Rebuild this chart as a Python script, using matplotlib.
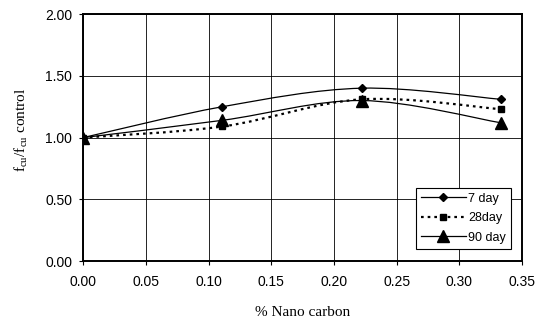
import matplotlib
matplotlib.use("Agg")
import matplotlib.pyplot as plt
from matplotlib.path import Path
from matplotlib.patches import PathPatch

# data
nano = [0.0, 0.111, 0.222, 0.333]
day7 = [1.00, 1.25, 1.40, 1.31]
day28 = [1.00, 1.09, 1.31, 1.23]
day90 = [1.00, 1.14, 1.30, 1.12]

xticks = [0.00, 0.05, 0.10, 0.15, 0.20, 0.25, 0.30, 0.35]
yticks = [0.00, 0.50, 1.00, 1.50, 2.00]

plt.rcParams['font.family'] = ['Liberation Sans', 'DejaVu Sans']
plt.rcParams['mathtext.fontset'] = 'custom'
plt.rcParams['mathtext.rm'] = 'Liberation Serif'


def smooth_path(xs, ys):
    # Excel-like smoothed line: cubic bezier through the points
    pts = list(zip(xs, ys))
    n = len(pts)
    verts = [pts[0]]
    codes = [Path.MOVETO]
    for i in range(n - 1):
        p0 = pts[i - 1] if i > 0 else pts[i]
        p1 = pts[i]
        p2 = pts[i + 1]
        p3 = pts[i + 2] if i + 2 < n else pts[i + 1]
        c1 = (p1[0] + (p2[0] - p0[0]) / 6, p1[1] + (p2[1] - p0[1]) / 6)
        c2 = (p2[0] - (p3[0] - p1[0]) / 6, p2[1] - (p3[1] - p1[1]) / 6)
        verts += [c1, c2, p2]
        codes += [Path.CURVE4] * 3
    return Path(verts, codes)


fig = plt.figure(figsize=(5.4, 3.2), dpi=100)
ax = fig.add_axes([0.154, 0.184, 0.813, 0.772])

series = [
    (day7, 'D', 4, '-', 0.9, '7 day'),
    (day28, 's', 4.5, (0, (1.2, 1.8)), 1.6, '28day'),
    (day90, '^', 8, '-', 0.9, '90 day'),
]

for ys, mk, ms, ls, lw, lab in series:
    ax.add_patch(PathPatch(smooth_path(nano, ys), facecolor='none',
                           edgecolor='black', linestyle=ls, linewidth=lw))
    ax.plot(nano, ys, linestyle='none', marker=mk, markersize=ms, color='black')
    ax.plot([], [], color='black', linestyle=ls, linewidth=lw, marker=mk,
            markersize=ms, label=lab)

ax.set_xlim(0, 0.35)
ax.set_ylim(0, 2.0)
ax.set_xticks(xticks)
ax.set_yticks(yticks)
ax.set_xticklabels(['%.2f' % v for v in xticks])
ax.set_yticklabels(['%.2f' % v for v in yticks])
ax.tick_params(labelsize=10, length=3, width=0.8, direction='out')
ax.tick_params(axis='x', pad=7)
ax.tick_params(axis='y', pad=5)
ax.grid(True, color='black', linewidth=0.6)
ax.set_axisbelow(True)
for sp in ax.spines.values():
    sp.set_linewidth(1.4)

ax.set_xlabel('% Nano carbon', family=['Liberation Serif'], fontsize=11, labelpad=12)
ax.set_ylabel(r'f$_\mathregular{cu}$/f$_\mathregular{cu}$ control',
              family=['Liberation Serif'], fontsize=11)
ax.yaxis.set_label_coords(-0.122, 0.53)

leg = ax.legend(loc='lower right', bbox_to_anchor=(0.975, 0.05), fontsize=9,
                handlelength=3.6, fancybox=False, framealpha=1, edgecolor='black',
                borderpad=0.4, labelspacing=0.6, handletextpad=0.2, borderaxespad=0)
leg.get_frame().set_linewidth(0.8)

fig.savefig('out.png', dpi=100)
